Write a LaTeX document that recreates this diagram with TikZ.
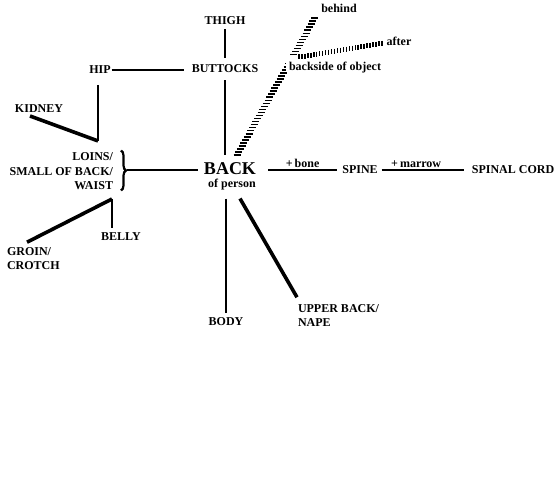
\documentclass[tikz,border=0pt]{standalone}
\usepackage{fontspec}
\setmainfont{Liberation Serif}
\usetikzlibrary{calc,decorations.pathreplacing,decorations.markings}
\begin{document}
\begin{tikzpicture}[x=1pt,y=-1pt,
  lbl/.style={font=\bfseries\fontsize{12}{14.5}\selectfont, inner sep=0pt, outer sep=0pt},
  big/.style={font=\bfseries\fontsize{18}{20}\selectfont, inner sep=0pt, outer sep=0pt},
  thinln/.style={line width=1.6pt},
  heavy/.style={line width=3.6pt},
  hatchH/.style={decoration={markings, mark=between positions 0 and 1 step 3.5pt with
      {\pgftransformresetnontranslations \draw[line width=1.5pt] (-3.5,0) -- (3.5,0);}},
      postaction={decorate}},
  hatchV/.style={decoration={markings, mark=between positions 0 and 1 step 3pt with
      {\pgftransformresetnontranslations \draw[line width=1.4pt] (0,-2.5) -- (0,2.5);}},
      postaction={decorate}}]
\useasboundingbox (0,0) rectangle (560,481);
\fill[white] (0,0) rectangle (560,481);

% nodes
\node[lbl,anchor=base] (thigh) at (225,25) {THIGH};
\node[lbl,anchor=base] (buttocks) at (225,73) {BUTTOCKS};
\node[lbl,anchor=base] (hip) at (100,74) {HIP};
\node[lbl,anchor=base] (kidney) at (39,113) {KIDNEY};
\node[lbl,anchor=east,align=right] (loins) at (113,171.5) {LOINS/\\SMALL OF BACK/\\WAIST};
\node[big,anchor=base] (back) at (230,175) {BACK};
\node[lbl,anchor=base] (person) at (232,188) {of person};
\node[lbl,anchor=base] (spine) at (360,174) {SPINE};
\node[lbl,anchor=base] (cord) at (513,174) {SPINAL CORD};
\node[lbl,anchor=base] (belly) at (121,241) {BELLY};
\node[lbl,anchor=west,align=left] (groin) at (7,258.5) {GROIN/\\CROTCH};
\node[lbl,anchor=base] (body) at (226,326) {BODY};
\node[lbl,anchor=west,align=left] (upper) at (298,315.5) {UPPER BACK/\\NAPE};
\node[lbl,anchor=base] (behind) at (339,13) {behind};
\node[lbl,anchor=base] (after) at (399,46) {after};

\coordinate (loinsTop) at ($(loins.north east)+(-15,-12)$);
\coordinate (loinsBot) at ($(loins.east)+(-1,27.5)$);
\coordinate (braceTip) at ($(loins.east)+(14,-1.5)$);
\coordinate (backL) at ($(back.east)+(12,1)$);

% connectors
\draw[thinln] ($(thigh.south)+(0,4)$) -- ($(buttocks.north)+(0,-7)$);
\draw[thinln] ($(hip.east)+(1,0)$) -- ($(hip.east -| buttocks.west)+(-8,0)$);
\draw[thinln] ($(buttocks.south)+(0,7)$) -- ($(buttocks.south |- back.north)+(0,-8)$);
\draw[thinln] ($(hip.south)+(-2,11)$) -- (loinsTop);
\draw[heavy] ($(kidney.base)+(-9,3)$) -- (loinsTop);
\draw[line width=2.2pt,decorate,decoration={brace,amplitude=5pt}]
  ($(loins.east)+(8,-21)$) -- ($(loins.east)+(8,19)$);
\draw[thinln] (braceTip) -- ($(braceTip -| back.west)+(-6,0)$);
\draw[thinln] (loinsBot) -- ($(loinsBot |- belly.north)+(0,-5)$);
\draw[heavy] (loinsBot) -- ($(groin.north west)+(20,-5)$);
\draw[thinln] ($(person.south -| body.north)+(0,8)$) -- ($(body.north)+(0,-5)$);
\draw[heavy] ($(person.south)+(8,8)$) -- ($(upper.north west)+(-1,-7)$);
\draw[thinln] (backL) -- node[lbl,above=3pt] {+\,bone} ($(backL -| spine.west)+(-5,0)$);
\draw[thinln] ($(backL -| spine.east)+(4,0)$) -- node[lbl,above=3pt,pos=0.42] {+\,marrow} ($(backL -| cord.west)+(-8,0)$);

\path[hatchH] ($(back.north)+(7,-8)$) -- ($(behind.south west)+(-5,2)$);
\node[lbl,anchor=base,fill=white,inner xsep=3pt,text height=15pt,text depth=1pt] (backside) at (335,71) {backside of object};
\path[hatchV] ($(backside.north west)+(13,1)$) -- ($(after.west)+(-3,1)$);
\end{tikzpicture}
\end{document}
